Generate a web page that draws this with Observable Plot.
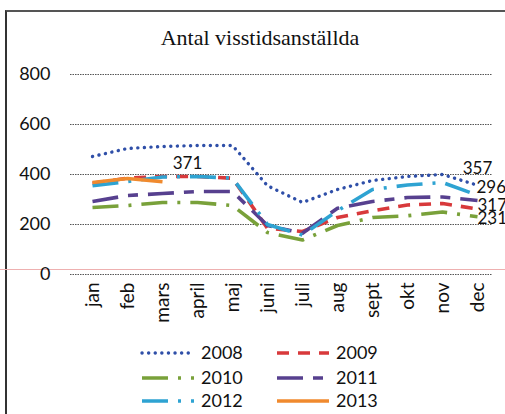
<!DOCTYPE html>
<html>
<head>
<meta charset="utf-8">
<script src="https://cdn.jsdelivr.net/npm/d3@7"></script>
<script src="https://cdn.jsdelivr.net/npm/@observablehq/plot@0.6"></script>
<style>
  html, body { margin: 0; padding: 0; background: #fff; }
  #wrap { position: relative; width: 505px; height: 414px; overflow: hidden; background: #fff; }
  #frame { position: absolute; left: 5px; top: 10px; width: 600px; height: 500px; border-left: 2px solid #333; border-top: 2px solid #555; }
  #title { position: absolute; left: 0; width: 520px; top: 25px; text-align: center; font-family: "Liberation Serif", serif; font-size: 22px; color: #111; }
  #chart { position: absolute; left: 0; top: 0; }
  #scan { position: absolute; left: 0; top: 269px; width: 505px; height: 1px; background: #eeb0b0; }
  #legend { position: absolute; left: 0; top: 335px; }
</style>
</head>
<body>
<div id="wrap">
  <div id="frame"></div>
  <div id="title">Antal visstidsanställda</div>
  <div id="scan"></div>
  <div id="chart"></div>
  <div id="legend"></div>
</div>
<script>
const months = ["jan","feb","mars","april","maj","juni","juli","aug","sept","okt","nov","dec"];
const years = ["2008","2009","2010","2011","2012","2013"];
const yTicks = [0, 200, 400, 600, 800];

const v2008 = [472, 504, 512, 516, 516, 355, 288, 340, 376, 392, 400, 357];
const v2009 = [365, 385, 392, 392, 385, 185, 172, 228, 255, 278, 284, 262];
const v2010 = [268, 276, 288, 288, 276, 168, 138, 196, 228, 235, 250, 231];
const v2011 = [292, 316, 324, 332, 332, 196, 165, 265, 292, 308, 310, 296];
const v2012 = [355, 372, 390, 392, 385, 200, 158, 255, 340, 358, 368, 317];
const v2013 = [368, 384, 371];

const seriesValues = [v2008, v2009, v2010, v2011, v2012, v2013];

// which series get a value label at their last point
const labelledYears = ["2008", "2010", "2011", "2012", "2013"];

const styles = {
  "2008": {stroke: "#2f4fa8", dash: "0.1 6.5", cap: "round", width: 3.4},
  "2009": {stroke: "#d8393b", dash: "12 9", cap: "butt", width: 3.6},
  "2010": {stroke: "#79a13a", dash: "26 10 3 10", cap: "butt", width: 3.6},
  "2011": {stroke: "#57408f", dash: "26 10 10 10", cap: "butt", width: 3.6},
  "2012": {stroke: "#2ea3d2", dash: "26 10 3 10", cap: "butt", width: 3.6},
  "2013": {stroke: "#f08a2e", dash: null, cap: "butt", width: 3.6}
};
const labelOffsets = {
  "2008": {dx: 0, dy: -17, anchor: "middle"},
  "2010": {dx: 0, dy: 2, anchor: "start"},
  "2011": {dx: -1, dy: -13, anchor: "start"},
  "2012": {dx: 0, dy: 10, anchor: "start"},
  "2013": {dx: 25, dy: -18, anchor: "middle"}
};

const rows = [];
years.forEach((yr, i) => {
  seriesValues[i].forEach((v, j) => rows.push({year: yr, month: months[j], value: v}));
});
const labelRows = labelledYears.map(yr => {
  const vals = seriesValues[years.indexOf(yr)];
  return {year: yr, month: months[vals.length - 1], value: vals[vals.length - 1]};
});

const lineMarks = years.map(yr => Plot.line(rows.filter(d => d.year === yr), {
  x: "month", y: "value",
  stroke: styles[yr].stroke,
  strokeWidth: styles[yr].width,
  strokeDasharray: styles[yr].dash,
  strokeLinecap: styles[yr].cap,
  strokeLinejoin: "round"
}));
const textMarks = labelRows.map(d => Plot.text([d], {
  x: "month", y: "value", text: d => String(d.value),
  dx: labelOffsets[d.year].dx, dy: labelOffsets[d.year].dy,
  textAnchor: labelOffsets[d.year].anchor,
  fontSize: 17, fill: "#111"
}));

const chart = Plot.plot({
  width: 505, height: 340,
  marginTop: 74, marginBottom: 66, marginLeft: 70, marginRight: 13,
  x: {type: "point", domain: months, range: [91, 478], padding: 0, label: null},
  y: {domain: [0, 800], label: null},
  style: {fontFamily: "Lato, 'Open Sans', sans-serif", color: "#111", background: "transparent", overflow: "visible"},
  marks: [
    Plot.ruleY(yTicks, {stroke: "#555", strokeWidth: 1, strokeDasharray: "1.5 1"}),
    Plot.axisY(yTicks, {tickSize: 0, tickPadding: 20, fontSize: 18, label: null}),
    Plot.axisX({tickSize: 0, tickRotate: -90, tickPadding: 8, fontSize: 19, label: null}),
    ...lineMarks,
    ...textMarks
  ]
});
document.getElementById("chart").appendChild(chart);

// legend
const legendPos = [
  {x: 142, y: 18}, {x: 277, y: 18},
  {x: 142, y: 43}, {x: 277, y: 43},
  {x: 142, y: 66}, {x: 277, y: 66}
];
const lsvg = d3.select("#legend").append("svg").attr("width", 505).attr("height", 80);
years.forEach((yr, i) => {
  const p = legendPos[i];
  const s = styles[yr];
  const g = lsvg.append("g").attr("transform", `translate(${p.x},${p.y})`);
  g.append("line").attr("x1", 0).attr("x2", 52).attr("y1", 0).attr("y2", 0)
    .attr("stroke", s.stroke).attr("stroke-width", s.width)
    .attr("stroke-dasharray", s.dash).attr("stroke-linecap", s.cap);
  g.append("text").attr("x", 59).attr("y", 0).attr("dy", "0.35em")
    .attr("font-family", "Lato, 'Open Sans', sans-serif").attr("font-size", 18)
    .attr("fill", "#111").text(yr);
});
</script>
</body>
</html>
